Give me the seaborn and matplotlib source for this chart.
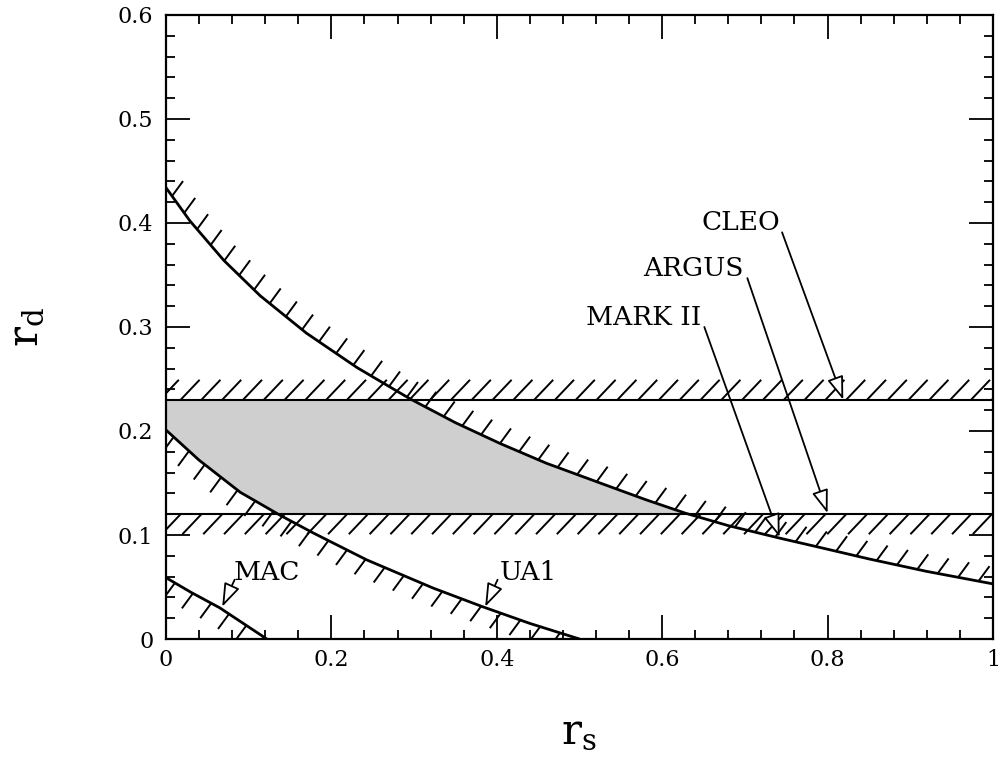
import numpy as np
import pandas as pd
import matplotlib
matplotlib.use("Agg")
import matplotlib.pyplot as plt
import seaborn as sns
from matplotlib.collections import LineCollection
from matplotlib.ticker import MultipleLocator, FuncFormatter

# ---------------- data ----------------
upper_rs = [0.000, 0.029, 0.070, 0.114, 0.170, 0.231, 0.295, 0.350, 0.404, 0.460, 0.525,
            0.580, 0.628, 0.680, 0.742, 0.791, 0.850, 0.920, 1.000]
upper_rd = [0.434, 0.402, 0.364, 0.330, 0.294, 0.261, 0.231, 0.208, 0.188, 0.169, 0.150,
            0.134, 0.121, 0.109, 0.097, 0.088, 0.077, 0.065, 0.053]

ua1_rs = [0.000, 0.040, 0.090, 0.138, 0.178, 0.243, 0.323, 0.383, 0.440, 0.500]
ua1_rd = [0.201, 0.172, 0.141, 0.119, 0.102, 0.076, 0.049, 0.031, 0.015, 0.000]

mac_rs = [0.000, 0.030, 0.065, 0.122]
mac_rd = [0.059, 0.045, 0.030, 0.000]

cleo_rd = 0.23
argus_rd = 0.12

x_ticks = [0, 0.2, 0.4, 0.6, 0.8, 1.0]
y_ticks = [0, 0.1, 0.2, 0.3, 0.4, 0.5, 0.6]

# label, text position, arrow start, arrow tip
labels = ["CLEO", "ARGUS", "MARK II", "MAC", "UA1"]
label_xy = [(0.695, 0.400), (0.638, 0.356), (0.577, 0.309), (0.122, 0.064), (0.438, 0.064)]
arrow_from = [(0.745, 0.391), (0.703, 0.347), (0.651, 0.300), (0.083, 0.057), (0.401, 0.057)]
arrow_to = [(0.819, 0.230), (0.800, 0.121), (0.742, 0.098), (0.068, 0.031), (0.386, 0.031)]

# ---------------- style ----------------
sns.set_style("ticks")
plt.rcParams["font.family"] = ["DejaVu Serif"]
plt.rcParams["mathtext.fontset"] = "dejavuserif"
plt.rcParams["text.color"] = "black"
plt.rcParams["axes.labelcolor"] = "black"
plt.rcParams["xtick.color"] = "black"
plt.rcParams["ytick.color"] = "black"

fig = plt.figure(figsize=(10.04, 7.6), dpi=100)
ax = fig.add_axes([0.1653, 0.1592, 0.8237, 0.8211])
ax.set_xlim(0, 1)
ax.set_ylim(0, 0.6)

# shaded allowed region
xg = np.linspace(0, 1, 1001)
up = np.minimum(cleo_rd, np.interp(xg, upper_rs, upper_rd))
lo = np.maximum(argus_rd, np.interp(xg, ua1_rs, ua1_rd))
ax.fill_between(xg, lo, up, where=up > lo, color="#cfcfcf", lw=0, zorder=1)

# curves
for xs, ys in [(upper_rs, upper_rd), (ua1_rs, ua1_rd), (mac_rs, mac_rd)]:
    sns.lineplot(x=xs, y=ys, ax=ax, color="black", lw=2.0, zorder=3, legend=False)
ax.axhline(cleo_rd, color="black", lw=1.5, zorder=3)
ax.axhline(argus_rd, color="black", lw=1.5, zorder=3)


def hatch(xs, ys, side, step=20.8, vec=(11, 15), lw=1.4):
    pts = ax.transData.transform(np.column_stack([xs, ys]))
    d = np.hypot(np.diff(pts[:, 0]), np.diff(pts[:, 1]))
    s = np.concatenate([[0], np.cumsum(d)])
    si = np.arange(step / 2, s[-1], step)
    px = np.interp(si, s, pts[:, 0])
    py = np.interp(si, s, pts[:, 1])
    v = np.array(vec, dtype=float) * (1 if side == "above" else -1)
    p0 = np.column_stack([px, py])
    p1 = p0 + v
    inv = ax.transData.inverted()
    segs = np.stack([inv.transform(p0), inv.transform(p1)], axis=1)
    ax.add_collection(LineCollection(segs, colors="black", linewidths=lw,
                                     capstyle="butt", zorder=3))


hatch(upper_rs, upper_rd, "above")
hatch(ua1_rs, ua1_rd, "below")
hatch(mac_rs, mac_rd, "below")
hatch([-0.02, 1.02], [cleo_rd, cleo_rd], "above", vec=(19, 20))
hatch([-0.02, 1.02], [argus_rd, argus_rd], "below", vec=(19, 20))

# labels + arrows
for lab, txy, a0, a1 in zip(labels, label_xy, arrow_from, arrow_to):
    ax.text(txy[0], txy[1], lab, fontsize=19, ha="center", va="center",
            color="black", zorder=5)
    ax.annotate("", xy=a1, xytext=a0,
                arrowprops=dict(arrowstyle="-|>,head_length=0.8,head_width=0.28",
                                fc="white", ec="black", lw=1.3,
                                shrinkA=0, shrinkB=0, mutation_scale=18),
                zorder=5)

# axes styling
ax.set_xticks(x_ticks)
ax.set_yticks(y_ticks)
ax.xaxis.set_minor_locator(MultipleLocator(0.04))
ax.yaxis.set_minor_locator(MultipleLocator(0.02))
fmt = FuncFormatter(lambda v, p: f"{v:g}")
ax.xaxis.set_major_formatter(fmt)
ax.yaxis.set_major_formatter(fmt)
ax.tick_params(which="both", direction="in", top=True, right=True, width=1.3,
               colors="black", labelsize=16)
ax.tick_params(which="major", length=17)
ax.tick_params(which="minor", length=6.5)
ax.tick_params(axis="x", pad=7)
ax.tick_params(axis="y", pad=9)
for sp in ax.spines.values():
    sp.set_linewidth(1.6)
    sp.set_color("black")

fig.text(0.577, 0.038, r"$\mathrm{r}_\mathrm{s}$", fontsize=30, ha="center", va="center")
fig.text(0.025, 0.57, r"$\mathrm{r}_\mathrm{d}$", fontsize=30, ha="center", va="center",
         rotation=90)

fig.savefig("out.png", dpi=100)
